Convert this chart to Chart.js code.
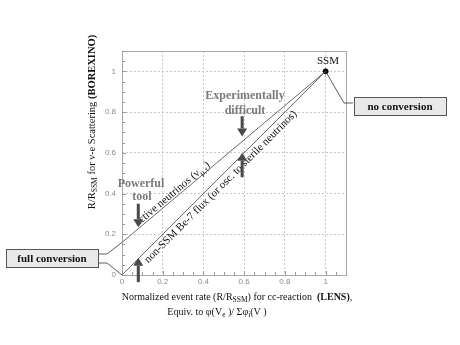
<!DOCTYPE html>
<html>
<head>
<meta charset="utf-8">
<script src="https://cdn.jsdelivr.net/npm/chart.js@4.4.1/dist/chart.umd.min.js"></script>
<style>
  html, body { margin: 0; background: #fff; }
  #wrap { width: 460px; height: 345px; }
</style>
</head>
<body>
<div id="wrap"><canvas id="c"></canvas></div>
<script>
// values
const xEnds = [0, 1];
const activeNu = [0.16, 1];   // active neutrinos (nu mu,tau)
const nonSsm = [0, 1];        // non-SSM Be-7 flux / sterile
const ssmPoint = [1, 1];
const majorTicks = [0, 0.2, 0.4, 0.6, 0.8, 1];
const axisMin = 0, axisMax = 1.1, minorStep = 0.05;

// arrows: x position, from y, to y (data units)
const arrowX = [0.08, 0.08, 0.59, 0.59];
const arrowFrom = [0.35, -0.035, 0.78, 0.48];
const arrowTo = [0.235, 0.085, 0.68, 0.6];

const SERIF = '"Liberation Serif", "DejaVu Serif", serif';
const isMajor = v => majorTicks.some(m => Math.abs(m - v) < 1e-6);

function richWidth(ctx, parts) {
  let w = 0;
  parts.forEach(p => { ctx.font = p.f; w += ctx.measureText(p.t).width; });
  return w;
}
function drawRich(ctx, parts, x, y, align) {
  ctx.save();
  ctx.textAlign = 'left';
  let cx = align === 'center' ? x - richWidth(ctx, parts) / 2 : x;
  parts.forEach(p => {
    ctx.font = p.f;
    ctx.fillText(p.t, cx, y + (p.dy || 0));
    cx += ctx.measureText(p.t).width;
  });
  ctx.restore();
}

const overlay = {
  id: 'overlay',
  beforeDatasetsDraw(chart) {
    const { ctx, chartArea: a } = chart;
    ctx.save();
    ctx.strokeStyle = '#a8a8a8';
    ctx.lineWidth = 1;
    ctx.strokeRect(a.left + 0.5, a.top + 0.5, a.right - a.left, a.bottom - a.top);
    // minor ticks inward
    const xs = chart.scales.x, ys = chart.scales.y;
    ctx.strokeStyle = '#999';
    for (let v = axisMin; v <= axisMax + 1e-9; v += minorStep) {
      const len = isMajor(v) ? 4 : 3;
      const px = Math.round(xs.getPixelForValue(v)) + 0.5;
      ctx.beginPath(); ctx.moveTo(px, a.bottom); ctx.lineTo(px, a.bottom - len); ctx.stroke();
      const py = Math.round(ys.getPixelForValue(v)) + 0.5;
      ctx.beginPath(); ctx.moveTo(a.left, py); ctx.lineTo(a.left + len, py); ctx.stroke();
    }
    ctx.restore();
  },
  afterDatasetsDraw(chart) {
    const { ctx } = chart;
    const xs = chart.scales.x, ys = chart.scales.y;
    const P = (x, y) => [xs.getPixelForValue(x), ys.getPixelForValue(y)];
    ctx.save();
    ctx.fillStyle = '#111';
    ctx.textBaseline = 'alphabetic';

    // labels along the lines
    const lineLabel = (ys0, t, off, base, parts) => {
      const p0 = P(xEnds[0], ys0[0]), p1 = P(xEnds[1], ys0[1]);
      const ang = Math.atan2(p1[1] - p0[1], p1[0] - p0[0]);
      const yv = ys0[0] + (ys0[1] - ys0[0]) * t;
      const pt = P(t, yv);
      ctx.save();
      ctx.translate(pt[0], pt[1]);
      ctx.rotate(ang);
      ctx.textBaseline = base;
      drawRich(ctx, parts, 0, off, 'left');
      ctx.restore();
    };
    const f11 = '11px ' + SERIF, f8 = '8px ' + SERIF;
    lineLabel(activeNu, 0.085, -2, 'alphabetic', [
      { t: 'active neutrinos (\u03bd', f: f11 },
      { t: '\u03bc,\u03c4', f: f8, dy: 3 },
      { t: ')', f: f11 }
    ]);
    lineLabel(nonSsm, 0.093, 2, 'top', [
      { t: 'non-SSM Be-7 flux (or osc. to sterile neutrinos)', f: f11 }
    ]);

    // arrows
    ctx.fillStyle = '#4a4a4a';
    arrowX.forEach((ax, i) => {
      const [x, y0] = P(ax, arrowFrom[i]);
      const y1 = P(ax, arrowTo[i])[1];
      const dir = y1 > y0 ? 1 : -1;
      const head = 8;
      ctx.fillRect(x - 1.5, Math.min(y0, y1 - dir * head), 3, Math.abs(y1 - dir * head - y0));
      ctx.beginPath();
      ctx.moveTo(x - 5, y1 - dir * head);
      ctx.lineTo(x + 5, y1 - dir * head);
      ctx.lineTo(x, y1);
      ctx.closePath();
      ctx.fill();
    });

    // arrow captions
    ctx.fillStyle = '#7a7a7a';
    ctx.textAlign = 'center';
    ctx.textBaseline = 'middle';
    ctx.font = 'bold 12px ' + SERIF;
    ctx.fillText('Powerful', 141, 184);
    ctx.fillText('tool', 142, 197);
    ctx.fillText('Experimentally', 245, 96);
    ctx.fillText('difficult', 245, 111);

    // SSM label
    ctx.fillStyle = '#111';
    ctx.font = '11px ' + SERIF;
    ctx.fillText('SSM', 328, 61);

    // callouts
    ctx.strokeStyle = '#333';
    ctx.lineWidth = 0.8;
    const s = P(ssmPoint[0], ssmPoint[1]);
    ctx.beginPath();
    ctx.moveTo(s[0], s[1]); ctx.lineTo(344, 103); ctx.lineTo(353, 103);
    ctx.stroke();
    const a0 = P(xEnds[0], activeNu[0]), b0 = P(xEnds[0], nonSsm[0]);
    ctx.beginPath();
    ctx.moveTo(99, 254); ctx.lineTo(107, 254); ctx.lineTo(a0[0], a0[1]);
    ctx.moveTo(99, 263); ctx.lineTo(107, 263); ctx.lineTo(b0[0], b0[1]);
    ctx.stroke();

    // boxes
    const box = (x, y, w, h, txt, font) => {
      ctx.fillStyle = '#e9e9e9';
      ctx.fillRect(x, y, w, h);
      ctx.strokeStyle = '#555';
      ctx.lineWidth = 1;
      ctx.strokeRect(x + 0.5, y + 0.5, w, h);
      ctx.fillStyle = '#111';
      ctx.font = font;
      ctx.fillText(txt, x + w / 2, y + h / 2 + 1);
    };
    box(354, 97, 92, 18, 'no conversion', 'bold 11px ' + SERIF);
    box(6, 249, 92, 18, 'full conversion', 'bold 11px ' + SERIF);

    // axis titles
    const f10 = '10px ' + SERIF, f7 = '7.5px ' + SERIF;
    ctx.fillStyle = '#111';
    ctx.textBaseline = 'middle';
    ctx.save();
    ctx.translate(92, 122);
    ctx.rotate(-Math.PI / 2);
    drawRich(ctx, [
      { t: 'R/R', f: '10.5px ' + SERIF },
      { t: 'SSM', f: f7, dy: 3 },
      { t: ' for \u03bd-e Scattering ', f: '10.5px ' + SERIF },
      { t: '(BOREXINO)', f: 'bold 10.5px ' + SERIF }
    ], 0, 0, 'center');
    ctx.restore();
    drawRich(ctx, [
      { t: 'Normalized event rate (R/R', f: f10 },
      { t: 'SSM', f: f7, dy: 3 },
      { t: ') for cc-reaction  ', f: f10 },
      { t: '(LENS)', f: 'bold 10px ' + SERIF },
      { t: ',', f: f10 }
    ], 237, 297, 'center');
    drawRich(ctx, [
      { t: 'Equiv. to \u03c6(V', f: f10 },
      { t: 'e', f: f7, dy: 3 },
      { t: ' )/ \u03a3\u03c6', f: f10 },
      { t: 'i', f: f7, dy: 3 },
      { t: '(V )', f: f10 }
    ], 217, 312, 'center');
    ctx.restore();
  }
};

const toXY = (xs, ys) => xs.map((x, i) => ({ x, y: ys[i] }));

const gridOpts = {
  color: c => (c.tick && isMajor(c.tick.value) && c.tick.value > 0) ? '#c8c8c8' : 'rgba(0,0,0,0)',
  lineWidth: 1,
  drawTicks: false
};
const tickOpts = {
  stepSize: minorStep,
  autoSkip: false,
  maxRotation: 0,
  color: '#8a8a8a',
  font: { family: 'Arial, "Liberation Sans", sans-serif', size: 8 },
  callback: v => isMajor(v) ? String(Math.round(v * 10) / 10) : ''
};

new Chart(document.getElementById('c'), {
  type: 'scatter',
  data: {
    datasets: [
      { data: toXY(xEnds, activeNu), showLine: true, borderColor: '#6a6a6a', borderWidth: 1, pointRadius: 0 },
      { data: toXY(xEnds, nonSsm), showLine: true, borderColor: '#6a6a6a', borderWidth: 1, pointRadius: 0 },
      { data: [{ x: ssmPoint[0], y: ssmPoint[1] }], pointRadius: 2.5, pointBackgroundColor: '#000', pointBorderColor: '#000' }
    ]
  },
  options: {
    responsive: true,
    maintainAspectRatio: false,
    animation: false,
    layout: { padding: { left: 82, top: 51, right: 114, bottom: 0 } },
    plugins: { legend: { display: false }, tooltip: { enabled: false } },
    scales: {
      x: {
        type: 'linear', min: axisMin, max: axisMax,
        grid: { ...gridOpts },
        border: { display: false, dash: [2, 2] },
        ticks: { ...tickOpts, padding: 2 },
        afterFit: s => { s.height = 70; }
      },
      y: {
        type: 'linear', min: axisMin, max: axisMax,
        grid: { ...gridOpts },
        border: { display: false, dash: [2, 2] },
        ticks: { ...tickOpts, padding: 6 },
        afterFit: s => { s.width = 40; }
      }
    }
  },
  plugins: [overlay]
});
</script>
</body>
</html>
